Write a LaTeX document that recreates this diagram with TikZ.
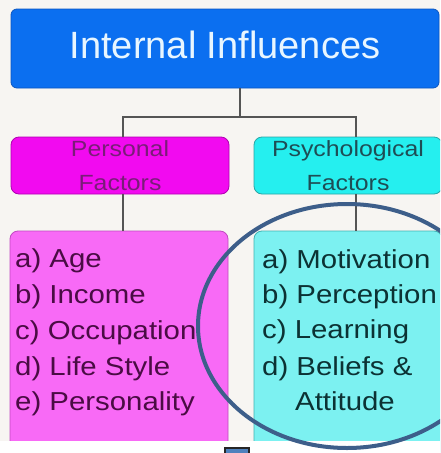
\documentclass[tikz,border=0pt]{standalone}
\usepackage{fontspec}
\setmainfont{Liberation Sans}
\newfontfamily\wideface[FakeStretch=1.13]{Liberation Sans}
\definecolor{bgc}{HTML}{F7F5F2}
\definecolor{titleblue}{HTML}{0B6FF0}
\definecolor{titleedge}{HTML}{0A55C0}
\definecolor{titletext}{HTML}{E8F6FF}
\definecolor{pfmag}{HTML}{F20AF0}
\definecolor{pfedge}{HTML}{B000B0}
\definecolor{pftext}{HTML}{7A1C78}
\definecolor{psycyan}{HTML}{25EFEF}
\definecolor{psyedge}{HTML}{2AA5A5}
\definecolor{psytext}{HTML}{1E4D55}
\definecolor{plfill}{HTML}{F86AF6}
\definecolor{pledge}{HTML}{C048C0}
\definecolor{pltext}{HTML}{4A0C44}
\definecolor{pslfill}{HTML}{7CF1F1}
\definecolor{psledge}{HTML}{3FB3B3}
\definecolor{psltext}{HTML}{0C3234}
\definecolor{circc}{HTML}{3D5E8A}
\definecolor{linegray}{HTML}{555555}
\definecolor{sqfill}{HTML}{4F81BD}
\begin{document}
\begin{tikzpicture}[x=1pt,y=-1pt,
  conn/.style={draw=linegray, line width=1.1pt},
  titlebox/.style={draw=titleedge, fill=titleblue, rounded corners=6pt, line width=0.8pt,
    text=titletext, font=\fontsize{38}{44}\selectfont, minimum width=428pt,
    minimum height=79pt, inner sep=0pt, text depth=8pt},
  factorbox/.style={rounded corners=8pt, line width=0.8pt, minimum height=57pt, inner sep=0pt,
    align=center, font=\wideface\fontsize{22}{34}\selectfont},
  listbox/.style={rounded corners=8pt, line width=0.8pt, minimum height=239pt, inner sep=0pt},
  plitem/.style={anchor=base west, inner sep=0pt, text=pltext, font=\wideface\fontsize{26}{35}\selectfont},
  pslitem/.style={anchor=base west, inner sep=0pt, text=psltext, font=\wideface\fontsize{26}{35}\selectfont},
  circ/.style={draw=circc, line width=4pt},
  sq/.style={draw=black!85, fill=sqfill, line width=1.5pt}
]
\useasboundingbox (0,0) rectangle (440,453);
\clip (0,0) rectangle (440,453);
\fill[bgc] (0,0) rectangle (440,441);

% boxes
\node[titlebox] (title) at (225,48.5) {Internal Influences};
\node[factorbox, draw=pfedge, fill=pfmag, text=pftext, minimum width=218pt] (pf) at (120,165.5) {Personal\\Factors};
\node[factorbox, draw=psyedge, fill=psycyan, text=psytext, minimum width=188pt] (ps) at (348,165.5) {Psychological\\Factors};
\node[listbox, draw=pledge, fill=plfill, minimum width=218pt] (pl) at (119,350.5) {};
\node[listbox, draw=psledge, fill=pslfill, minimum width=188pt] (psl) at (348,350.5) {};

% connectors
\coordinate (jT) at (240,117);
\coordinate (jL) at (123,117);
\coordinate (jR) at (356,117);
\draw[conn] (title.south -| jT) -- (jT);
\draw[conn] (pf.north -| jL) -- (jL) -- (jR) -- (ps.north -| jR);
\draw[conn] (pf.south -| jL) -- (pl.north -| jL);
\draw[conn] (ps.south -| jR) -- (psl.north -| jR);

% list items
\node[plitem] (pa) at (15,267) {a) Age};
\node[plitem] (pb) at (15,303) {b) Income};
\node[plitem] (pc) at (15,339) {c) Occupation};
\node[plitem] (pd) at (15,375) {d) Life Style};
\node[plitem] (pe) at (15,410) {e) Personality};
\node[pslitem] (sa) at (262,268) {a) Motivation};
\node[pslitem] (sb) at (262,303) {b) Perception};
\node[pslitem] (sc) at (262,338) {c) Learning};
\node[pslitem] (sd) at (262,375) {d) Beliefs \&};
\node[pslitem] (se) at (295,410) {Attitude};

% bottom white strip
\fill[white] (0,441) rectangle (440,453);

% highlight ellipse and marker
\draw[circ] (347,326) ellipse [x radius=149, y radius=122];
\draw[sq] (225,448) rectangle (249,460);
\end{tikzpicture}
\end{document}
